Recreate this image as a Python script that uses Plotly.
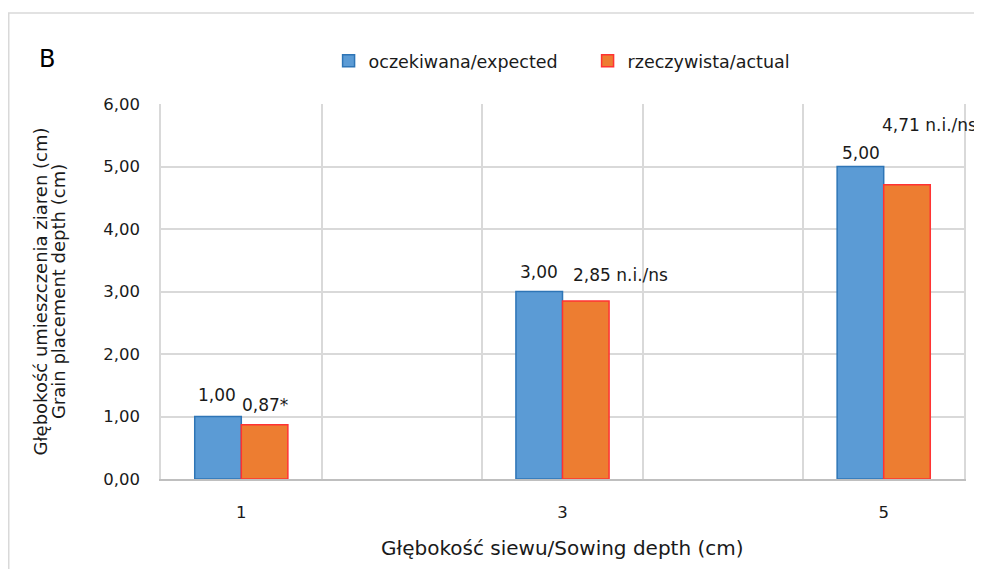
import plotly.graph_objects as go

# ---- data ----
sowing_depth = [1, 3, 5]
expected = [1.00, 3.00, 5.00]
actual = [0.87, 2.85, 4.71]
expected_labels = ["1,00", "3,00", "5,00"]
actual_labels = ["0,87*", "2,85 n.i./ns", "4,71 n.i./ns"]
series_names = ["oczekiwana/expected", "rzeczywista/actual"]
y_ticks = [0, 1, 2, 3, 4, 5, 6]
y_tick_text = ["0,00", "1,00", "2,00", "3,00", "4,00", "5,00", "6,00"]
x_tick_text = ["1", "3", "5"]
y_title_lines = ["Głębokość umieszczenia ziaren (cm)", "Grain placement depth (cm)"]
x_title = "Głębokość siewu/Sowing depth (cm)"
panel_letter = "B"

# label offsets (style, pixels): dx from category centre, dy above bar top
exp_dx = [-24, -24, -23]
exp_dy = [22, 20, 14]
act_dx = [24, 58, 46]
act_dy = [20, 26, 60]

FONT = "DejaVu Sans"
TXT = "#1a1a1a"
GRID = "#d9d9d9"

fig = go.Figure()
fig.add_trace(go.Bar(
    x=sowing_depth, y=expected, name=series_names[0],
    marker=dict(color="#5b9bd5", line=dict(color="#2e75b6", width=1.5)),
))
fig.add_trace(go.Bar(
    x=sowing_depth, y=actual, name=series_names[1],
    marker=dict(color="#ed7d31", line=dict(color="#ff3333", width=1.5)),
))

annotations = []
for xs, ys, labs, dxs, dys in [
    (sowing_depth, expected, expected_labels, exp_dx, exp_dy),
    (sowing_depth, actual, actual_labels, act_dx, act_dy),
]:
    for xv, yv, lab, dx, dy in zip(xs, ys, labs, dxs, dys):
        annotations.append(dict(
            x=xv, y=yv, xref="x", yref="y", text=lab, showarrow=False,
            xshift=dx, yshift=dy, xanchor="center", yanchor="middle",
            font=dict(family=FONT, size=17, color=TXT),
        ))

annotations.append(dict(
    x=-0.142, y=1.12, xref="paper", yref="paper", text=panel_letter, showarrow=False,
    xanchor="center", yanchor="middle", font=dict(family=FONT, size=24, color="#000000"),
))
for xp, line in zip([-0.1495, -0.1275], y_title_lines):
    annotations.append(dict(
        x=xp, y=0.5, xref="paper", yref="paper", textangle=-90, text=line,
        showarrow=False, xanchor="center", yanchor="middle",
        font=dict(family=FONT, size=18, color=TXT),
    ))
annotations.append(dict(
    x=0.5, y=-0.184, xref="paper", yref="paper", text=x_title, showarrow=False,
    xanchor="center", yanchor="middle",
    font=dict(family=FONT, size=20, color=TXT),
))

fig.update_layout(
    width=974, height=561,
    margin=dict(l=153, r=18, t=96, b=90),
    paper_bgcolor="white", plot_bgcolor="white",
    barmode="group", bargap=0.71, bargroupgap=0,
    font=dict(family=FONT, size=16.5, color=TXT),
    legend=dict(orientation="h", x=0.2087, y=1.115, xanchor="left", yanchor="middle",
                font=dict(family=FONT, size=17.5, color=TXT), itemclick=False,
                entrywidth=214, entrywidthmode="pixels"),
    annotations=annotations,
    shapes=[dict(type="rect", xref="paper", yref="paper",
                 x0=-0.1896, x1=1.05, y0=-0.3, y1=1.2427,
                 line=dict(color=GRID, width=1.5), layer="below")],
    showlegend=True,
)
fig.update_xaxes(
    range=[0.5, 5.5], tickmode="array", tickvals=sowing_depth, ticktext=x_tick_text,
    showgrid=False, zeroline=False, showline=True, linecolor="#bfbfbf", linewidth=1.5,
    ticks="", ticklabelstandoff=17, tickfont=dict(size=16.5, color=TXT),
    minor=dict(tick0=0.5, dtick=1, showgrid=True, gridcolor=GRID, gridwidth=1.5, ticks=""),
)
fig.update_yaxes(
    range=[0, 6], tickmode="array", tickvals=y_ticks, ticktext=y_tick_text,
    showgrid=True, gridcolor=GRID, gridwidth=1.5, zeroline=False,
    showline=True, mirror=True, linecolor=GRID, linewidth=1.5,
    ticks="", ticklabelstandoff=16, tickfont=dict(size=16.5, color=TXT),
)

fig.write_html("out.html")
